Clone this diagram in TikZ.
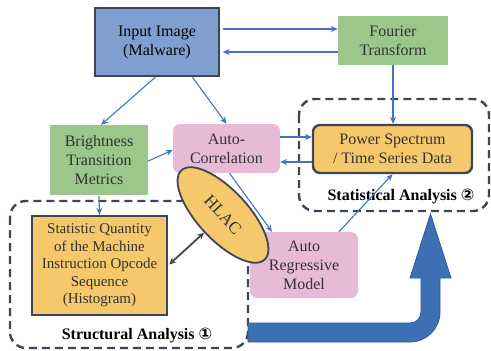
\documentclass[tikz,border=0pt]{standalone}
\usepackage{fontspec}
\setmainfont{Liberation Serif}
\newfontfamily\nodefont{Liberation Serif}
\newfontfamily\symfont{DejaVu Sans}
\usetikzlibrary{arrows.meta,shapes.geometric}
\definecolor{inblue}{RGB}{127,160,207}
\definecolor{boxgreen}{RGB}{155,199,139}
\definecolor{boxpink}{RGB}{231,187,214}
\definecolor{boxorange}{RGB}{245,201,107}
\definecolor{linkblue}{RGB}{68,114,196}
\definecolor{darkslate}{RGB}{60,70,86}
\definecolor{bigblue}{RGB}{62,112,182}
\definecolor{bigedge}{RGB}{46,92,158}
\definecolor{txt}{RGB}{51,51,51}
\tikzset{
  base/.style={align=center,text=txt,inner sep=0pt,font=\nodefont\fontsize{16}{19}\selectfont},
  inbox/.style={base,fill=inblue,draw=darkslate,line width=1.2pt,text=black},
  greenbox/.style={base,fill=boxgreen},
  pinkbox/.style={base,fill=boxpink,rounded corners=7pt},
  orangebox/.style={base,fill=boxorange,draw=darkslate,line width=2.4pt},
  conn/.style={draw=linkblue,line width=1.1pt,-{Stealth[length=7pt,width=6pt]}},
  darkconn/.style={draw=darkslate,line width=1.8pt,{Stealth[length=7pt,width=6.5pt]}-{Stealth[length=7pt,width=6.5pt]}},
  groupbox/.style={draw=darkslate,line width=2.4pt,dash pattern=on 8pt off 5pt,rounded corners=16pt},
  grouplabel/.style={inner sep=0pt,font=\nodefont\bfseries\fontsize{16}{19}\selectfont,text=black}
}
\begin{document}
\begin{tikzpicture}[x=1pt,y=-1pt]
\useasboundingbox (0,0) rectangle (491,351);
% group frames
\draw[groupbox] (299,99) rectangle (489,211);
\draw[groupbox] (10,201) rectangle (248,348);
% big arrow
\draw[fill=bigblue,draw=bigedge,line width=0.8pt]
  (248,342) -- (410,342) .. controls (426.6,342) and (440,328.6) .. (440,312)
  -- (440,278) -- (451,278) -- (430.5,214) -- (410,278) -- (421,278)
  -- (421,312) .. controls (421,318.1) and (416.1,323) .. (410,323)
  -- (248,323) -- cycle;
% nodes
\node[inbox,minimum width=124pt,minimum height=68pt] (in) at (157,42) {Input Image\\(Malware)};
\node[greenbox,minimum width=110pt,minimum height=49pt] (ft) at (393,40.5) {Fourier\\Transform};
\node[greenbox,minimum width=98pt,minimum height=70pt] (br) at (99,160) {Brightness\\Transition\\Metrics};
\node[pinkbox,minimum width=107pt,minimum height=49pt] (ac) at (226.5,148.5) {Auto-\\Correlation};
\node[orangebox,rounded corners=7pt,minimum width=159pt,minimum height=48pt] (ps) at (392.5,149) {Power Spectrum\\/ Time Series Data};
\node[orangebox,minimum width=135pt,minimum height=99pt,font=\nodefont\fontsize{15}{17.5}\selectfont] (sq) at (99.5,265.5) {Statistic Quantity\\of the Machine\\Instruction Opcode\\Sequence\\(Histogram)};
\node[pinkbox,minimum width=108pt,minimum height=66pt] (ar) at (304,265) {Auto\\Regressive\\Model};
\node[base,ellipse,rotate=-47,fill=boxorange,draw=darkslate,line width=1.8pt,minimum width=122pt,minimum height=50pt,font=\nodefont\fontsize{17}{19}\selectfont] (hl) at (223,215) {HLAC};
% labels
\node[grouplabel] (stat) at (401,197) {Statistical Analysis {\symfont ②}};
\node[grouplabel] (struc) at (137,336) {Structural Analysis {\symfont ①}};
% connectors
\draw[conn] ([xshift=3pt,yshift=13pt]in.east) -- ([yshift=13pt]in.east -| ft.west);
\draw[conn] ([yshift=-11.5pt]ft.west) -- ([xshift=3pt,yshift=-11.5pt]ft.west -| in.east);
\draw[conn] ([xshift=-1pt]in.south) -- ([xshift=2pt]br.north);
\draw[conn] ([xshift=35pt]in.south) -- (ac.north);
\draw[conn] ([yshift=-1pt]br.east) -- ([yshift=-1.5pt]ac.west);
\draw[conn] ([yshift=11.5pt]ac.east) -- ([yshift=11.5pt]ac.east -| ps.west);
\draw[conn] ([yshift=-13pt]ps.west) -- ([yshift=-13pt]ps.west -| ac.east);
\draw[conn] (ft.south) -- (ft.south |- ps.north);
\draw[conn] ([xshift=3pt]ac.south) -- ([xshift=-32pt]ar.north);
\draw[conn] ([xshift=35pt]ar.north) -- (ps.south);
\draw[conn] ([yshift=-1pt]br.south) -- (sq.north);
\draw[darkconn] ([xshift=1pt,yshift=1pt]sq.east) -- (hl.south);
\end{tikzpicture}
\end{document}
